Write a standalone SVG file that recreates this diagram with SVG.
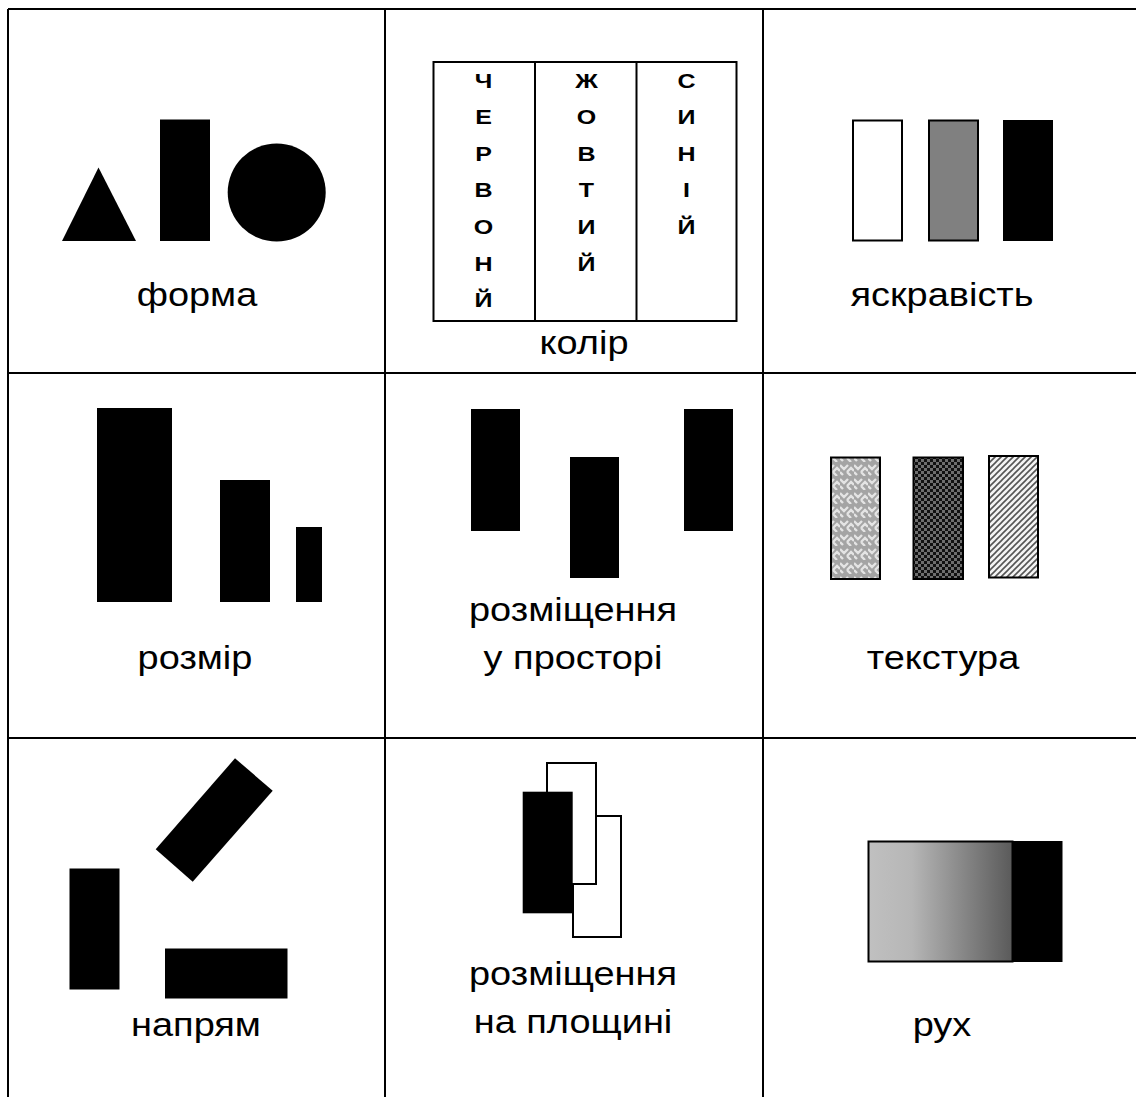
<svg xmlns="http://www.w3.org/2000/svg" width="1136" height="1097" viewBox="0 0 1136 1097">
<style>
.lbl{font-family:"Liberation Sans",Arial,sans-serif;font-size:33px;fill:#000;text-anchor:middle}
.ltr{font-family:"Liberation Sans",Arial,sans-serif;font-size:20px;font-weight:bold;fill:#000;text-anchor:middle}
.grid{stroke:#000;stroke-width:2;fill:none}
.blk{fill:#000}
.out{stroke:#000;stroke-width:2}
</style>
<defs>
<pattern id="weave" width="14" height="14" patternUnits="userSpaceOnUse">
<rect width="14" height="14" fill="#a4a4a4"/>
<path d="M0,3 L4,7 L8,3 M7,10 L11,14 M7,10 L11,6 L14,9 M0,10 L3,13" stroke="#e4e4e4" stroke-width="2.4" fill="none"/>
</pattern>
<pattern id="check" width="6" height="6" patternUnits="userSpaceOnUse">
<rect width="6" height="6" fill="#111"/>
<rect x="0" y="0" width="3" height="3" fill="#6e6e6e"/>
<rect x="3" y="3" width="3" height="3" fill="#6e6e6e"/>
</pattern>
<pattern id="diag" width="6" height="6" patternUnits="userSpaceOnUse">
<rect width="6" height="6" fill="#f4f4f4"/>
<path d="M-1,7 L7,-1 M-1,1 L1,-1 M5,7 L7,5" stroke="#555" stroke-width="1.6"/>
</pattern>
<linearGradient id="grad" x1="0" y1="0" x2="1" y2="0">
<stop offset="0" stop-color="#c0c0c0"/>
<stop offset="0.3" stop-color="#b6b6b6"/>
<stop offset="1" stop-color="#5a5a5a"/>
</linearGradient>
</defs>
<rect width="1136" height="1097" fill="#fff"/>
<g id="grid">
<line class="grid" x1="8" y1="9" x2="1136" y2="9"/>
<line class="grid" x1="8" y1="9" x2="8" y2="1097"/>
<line class="grid" x1="385" y1="9" x2="385" y2="1097"/>
<line class="grid" x1="763" y1="9" x2="763" y2="1097"/>
<line class="grid" x1="8" y1="373" x2="1136" y2="373"/>
<line class="grid" x1="8" y1="738" x2="1136" y2="738"/>
</g>
<g id="forma">
<polygon class="blk" points="98.5,167.5 62,241 136,241"/>
<rect class="blk" x="160" y="119.5" width="50" height="121.5"/>
<circle class="blk" cx="276.7" cy="192.5" r="49"/>
<text class="lbl" transform="translate(197,306) scale(1.15,1)">форма</text>
</g>
<g id="kolir">
<rect x="433.5" y="62" width="303" height="259" fill="none" class="out"/>
<line class="out" x1="535" y1="62" x2="535" y2="321"/>
<line class="out" x1="636.5" y1="62" x2="636.5" y2="321"/>
<g class="ltr">
<text transform="translate(483.5,87.5) scale(1.25,1)">Ч</text>
<text transform="translate(483.5,124) scale(1.25,1)">Е</text>
<text transform="translate(483.5,160.7) scale(1.25,1)">Р</text>
<text transform="translate(483.5,197.3) scale(1.25,1)">В</text>
<text transform="translate(483.5,234) scale(1.25,1)">О</text>
<text transform="translate(483.5,270.7) scale(1.25,1)">Н</text>
<text transform="translate(483.5,307.3) scale(1.25,1)">Й</text>
<text transform="translate(586.5,87.5) scale(1.25,1)">Ж</text>
<text transform="translate(586.5,124) scale(1.25,1)">О</text>
<text transform="translate(586.5,160.7) scale(1.25,1)">В</text>
<text transform="translate(586.5,197.3) scale(1.25,1)">Т</text>
<text transform="translate(586.5,234) scale(1.25,1)">И</text>
<text transform="translate(586.5,270.7) scale(1.25,1)">Й</text>
<text transform="translate(686.5,87.5) scale(1.25,1)">С</text>
<text transform="translate(686.5,124) scale(1.25,1)">И</text>
<text transform="translate(686.5,160.7) scale(1.25,1)">Н</text>
<text transform="translate(686.5,197.3) scale(1.25,1)">І</text>
<text transform="translate(686.5,234) scale(1.25,1)">Й</text>
</g>
<text class="lbl" transform="translate(584,354) scale(1.15,1)">колір</text>
</g>
<g id="yaskravist">
<rect class="out" x="853" y="120.5" width="49" height="120" fill="#fff"/>
<rect class="out" x="929" y="120.5" width="49" height="120" fill="#808080"/>
<rect class="blk" x="1003" y="120" width="50" height="121"/>
<text class="lbl" transform="translate(942,306) scale(1.15,1)">яскравість</text>
</g>
<g id="rozmir">
<rect class="blk" x="97" y="408" width="75" height="194"/>
<rect class="blk" x="220" y="480" width="50" height="122"/>
<rect class="blk" x="296" y="527" width="26" height="75"/>
<text class="lbl" transform="translate(195,669) scale(1.15,1)">розмір</text>
</g>
<g id="prostir">
<rect class="blk" x="471" y="409" width="49" height="122"/>
<rect class="blk" x="570" y="457" width="49" height="121"/>
<rect class="blk" x="684" y="409" width="49" height="122"/>
<text class="lbl" transform="translate(573,621) scale(1.15,1)">розміщення</text>
<text class="lbl" transform="translate(573,669) scale(1.15,1)">у просторі</text>
</g>
<g id="tekstura">
<rect class="out" x="831" y="457.5" width="49" height="121.5" fill="url(#weave)"/>
<rect class="out" x="913.5" y="457.5" width="49.5" height="121.5" fill="url(#check)"/>
<rect class="out" x="989" y="456" width="49" height="121.5" fill="url(#diag)"/>
<text class="lbl" transform="translate(943,669) scale(1.15,1)">текстура</text>
</g>
<g id="napryam">
<rect class="blk" x="69.5" y="868.5" width="50" height="121"/>
<rect class="blk" x="165" y="948.5" width="122.5" height="50"/>
<polygon class="blk" points="235,758.3 272.7,790.7 192.7,881.7 155.7,849.3"/>
<text class="lbl" transform="translate(196,1036) scale(1.15,1)">напрям</text>
</g>
<g id="ploshchyna">
<rect class="out" x="573" y="816" width="48" height="121" fill="#fff"/>
<rect class="out" x="547" y="763" width="49" height="121" fill="#fff"/>
<rect class="blk" x="522.7" y="791.7" width="50" height="121.6"/>
<text class="lbl" transform="translate(573,985) scale(1.15,1)">розміщення</text>
<text class="lbl" transform="translate(573,1033) scale(1.15,1)">на площині</text>
</g>
<g id="rukh">
<rect class="out" x="868.5" y="841.5" width="144" height="120" fill="url(#grad)"/>
<rect class="blk" x="1012.5" y="841" width="50" height="121"/>
<text class="lbl" transform="translate(942,1036) scale(1.15,1)">рух</text>
</g>
</svg>
